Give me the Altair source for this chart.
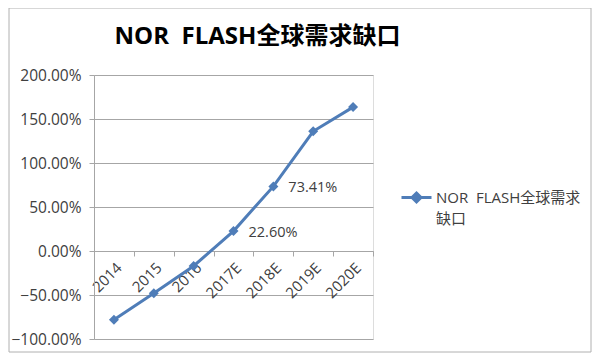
import altair as alt
import pandas as pd

years = ["2014", "2015", "2016", "2017E", "2018E", "2019E", "2020E"]
gap = [-0.78, -0.48, -0.17, 0.226, 0.7341, 1.36, 1.635]
label_years = ["2017E", "2018E"]
series_name = "NOR\u00a0\u00a0FLASH全球需求缺口"
legend_lines = ["NOR\u00a0\u00a0FLASH全球需求", "缺口"]
y_ticks = [-1.0, -0.5, 0.0, 0.5, 1.0, 1.5, 2.0]

df = pd.DataFrame({"year": years, "gap": gap, "series": series_name})
lab = df[df["year"].isin(label_years)]

FONT = "Open Sans, Noto Sans CJK SC"
LINE = "#4F7DB8"
GRID = "#a6a6a6"
TXT = "#404040"

W, H = 279, 264

x_enc = alt.X(
    "year:N", sort=years, title=None, bandPosition=0.5,
    scale=alt.Scale(type="band", paddingInner=0, paddingOuter=0),
    axis=alt.Axis(offset=-88, labelAngle=-45, labelAlign="right", labelBaseline="top",
                  labelFontSize=15, labelColor=TXT, labelFont=FONT, labelPadding=4,
                  tickBand="extent", tickSize=5, tickColor=GRID, domainColor=GRID,
                  grid=False, labelOverlap=False),
)
y_enc = alt.Y(
    "gap:Q", title=None,
    scale=alt.Scale(domain=[-1, 2], nice=False),
    axis=alt.Axis(values=y_ticks, format=".2%", labelFontSize=15.5, labelColor=TXT,
                  labelFont=FONT, grid=True, gridColor=GRID, gridWidth=1,
                  domainColor=GRID, tickColor=GRID, tickSize=5, labelPadding=8),
)

base = alt.Chart(df)

line = base.mark_line(strokeWidth=3).encode(
    x=x_enc, y=y_enc,
    color=alt.Color(
        "series:N",
        scale=alt.Scale(domain=[series_name], range=[LINE]),
        legend=alt.Legend(
            title=None, orient="none", legendX=306, legendY=106,
            symbolType="M-1,0L1,0M0,-0.3L0.3,0L0,0.3L-0.3,0Z",
            symbolSize=900, symbolStrokeWidth=3, symbolStrokeColor=LINE,
            symbolFillColor=LINE,
            labelExpr="['" + legend_lines[0] + "', '" + legend_lines[1] + "']",
            labelFontSize=15, labelColor=TXT, labelFont=FONT, labelBaseline="middle",
            labelLimit=400, labelOffset=3,
        ),
    ),
)
pts = base.mark_point(shape="diamond", filled=True, size=100, color=LINE, opacity=1).encode(
    x=x_enc, y=y_enc
)
txt = alt.Chart(lab).mark_text(align="left", baseline="middle", dx=15, dy=2, fontSize=14.5,
                               color=TXT, font=FONT).encode(
    x=x_enc, y=y_enc, text=alt.Text("gap:Q", format=".2%")
)
border = alt.Chart(pd.DataFrame({"a": [0]})).mark_rect(
    fill=None, stroke="#b0b0b0", strokeWidth=1, clip=False
).encode(x=alt.value(-85), x2=alt.value(497), y=alt.value(-67), y2=alt.value(277))

chart = alt.layer(border, line, pts, txt).properties(
    width=W, height=H,
    title=alt.Title(series_name, fontSize=24, fontWeight="bold", font=FONT, color="black",
                    anchor="middle", frame="group", dx=24, offset=-41),
    autosize=alt.AutoSizeParams(type="none"),
    padding={"left": 86, "top": 67, "right": 219, "bottom": 14},
).configure_view(stroke=None).configure(
    background="white",
    style={"guide-label": {"lineHeight": 21}},
)

chart.save("out.html", embed_options={"renderer": "svg", "actions": False})
